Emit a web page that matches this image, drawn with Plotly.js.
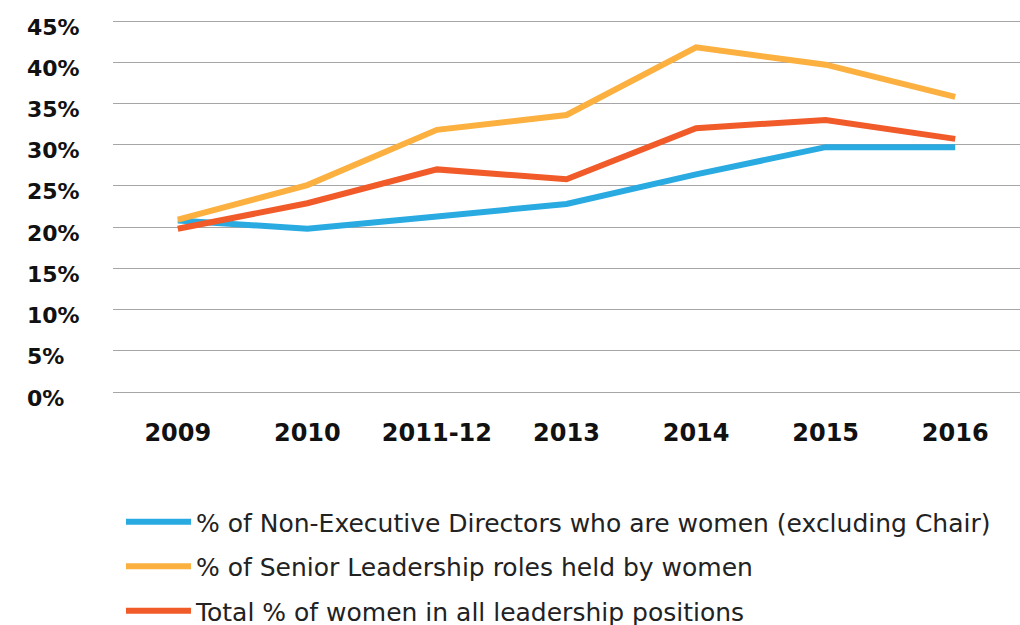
<!DOCTYPE html>
<html>
<head>
<meta charset="utf-8">
<script src="https://cdn.plot.ly/plotly-3.0.1.min.js"></script>
<style>html,body{margin:0;padding:0;background:#fff}#chart{width:1020px;height:625px}</style>
</head>
<body>
<div id="chart"></div>
<script>
const categories = ["2009", "2010", "2011-12", "2013", "2014", "2015", "2016"];
const nonExecDirectors = [20.8, 19.8, 21.3, 22.8, 26.4, 29.7, 29.7];
const seniorLeadership = [20.9, 25.1, 31.8, 33.6, 41.8, 39.7, 35.8];
const totalLeadership = [19.8, 22.9, 27.0, 25.8, 32.0, 33.0, 30.7];
const seriesNames = [
  "% of Non-Executive Directors who are women (excluding Chair)",
  "% of Senior Leadership roles held by women",
  "Total % of women in all leadership positions"
];
const yTickValues = [0, 5, 10, 15, 20, 25, 30, 35, 40, 45];
const yTickLabels = ["0%", "5%", "10%", "15%", "20%", "25%", "30%", "35%", "40%", "45%"];

const colors = ["#29abe2", "#fbb040", "#f15a29"];
const seriesData = [nonExecDirectors, seniorLeadership, totalLeadership];

const traces = seriesData.map((vals, i) => ({
  type: "scatter",
  mode: "lines",
  x: categories,
  y: vals,
  name: seriesNames[i],
  legendgroup: "g" + i,
  line: {color: colors[i], width: 6, shape: "linear"},
  hoverinfo: "skip"
}));

const annotations = yTickValues.map((v, i) => ({
  xref: "paper", yref: "y",
  x: -0.0965, y: v,
  xanchor: "left", yanchor: "middle",
  yshift: -6,
  text: yTickLabels[i],
  showarrow: false,
  font: {family: "DejaVu Sans", size: 22, color: "#111", weight: 700}
}));

const pad = 0.2426;
const layout = {
  width: 1020, height: 625,
  margin: {l: 113, r: 0, t: 19, b: 231, autoexpand: false},
  paper_bgcolor: "#fff", plot_bgcolor: "#fff",
  showlegend: true,
  xaxis: {
    type: "category",
    range: [-0.5, 6.5],
    showgrid: false, zeroline: false, showline: false,
    ticks: "outside", ticklen: 17, tickcolor: "rgba(0,0,0,0)",
    tickfont: {family: "DejaVu Sans", size: 24, color: "#111", weight: 700},
    fixedrange: true
  },
  yaxis: {
    range: [-pad, 45 + pad],
    tickvals: yTickValues,
    showticklabels: false,
    showgrid: true, gridcolor: "#a6a6a6", gridwidth: 1,
    zeroline: false, showline: false,
    fixedrange: true
  },
  legend: {
    x: 0.0088, xanchor: "left",
    y: -0.28, yanchor: "top",
    orientation: "v",
    traceorder: "grouped",
    tracegroupgap: 9,
    itemwidth: 65,
    font: {family: "DejaVu Sans", size: 25, color: "#222"},
    bgcolor: "rgba(0,0,0,0)"
  },
  annotations: annotations
};

Plotly.newPlot("chart", traces, layout, {displayModeBar: false, staticPlot: true});
</script>
</body>
</html>
